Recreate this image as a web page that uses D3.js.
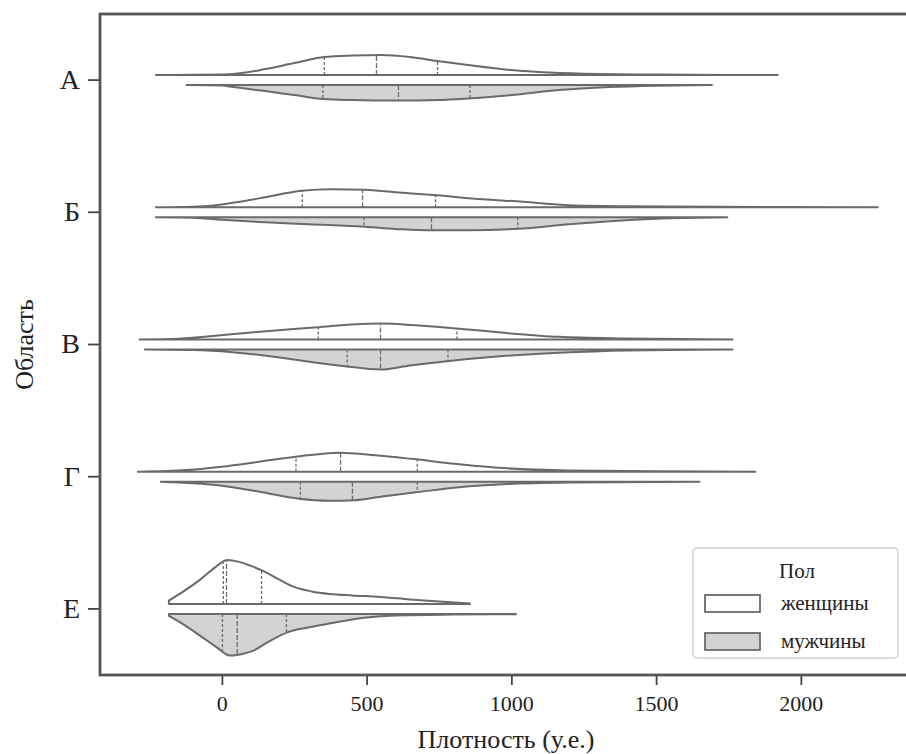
<!DOCTYPE html>
<html>
<head>
<meta charset="utf-8">
<script src="https://cdn.jsdelivr.net/npm/d3@7"></script>
<style>
	body { margin: 0; background: #fff; }
	svg { display: block; }
	text { font-family: "Liberation Serif", "DejaVu Serif", serif; fill: #222; }
</style>
</head>
<body>
<div id="chart"></div>
<script>
/* categories and hue levels */
const regions = ["А", "Б", "В", "Г", "Е"];
const sexes = ["женщины", "мужчины"];
const xTicks = [0, 500, 1000, 1500, 2000];

/* density profiles per region: [value, density x1e-4] */
const womenProfiles = [
	[[-228,0],[0,0.3],[55,0.9],[150,3.6],[250,7.2],[354,10.8],[450,11.7],[550,12],[650,10.8],[745,8.4],[850,6],[1000,3],[1130,1.5],[1300,0.6],[1500,0.3],[1920,0]],
	[[-228,0],[-100,0.3],[-35,0.9],[50,3],[150,6],[275,9.9],[380,10.8],[494,10.5],[600,9],[743,7.2],[900,4.8],[1041,3.3],[1200,1.2],[1400,0.6],[1700,0.3],[2266,0]],
	[[-284,0],[-150,0.4],[-69,1.5],[100,4.2],[318,7.2],[450,9],[548,9.6],[680,8.4],[812,6.6],[1000,3.6],[1164,1.6],[1400,0.6],[1764,0]],
	[[-290,0],[-122,1],[0,3],[130,6],[256,9],[408,11.4],[530,9.9],[670,7.4],[820,4.5],[988,2],[1200,0.7],[1500,0.3],[1843,0]],
	[[-183,2],[-130,7.8],[-76,14.4],[-30,21],[19,26.4],[60,25.2],[100,22.8],[142,19.8],[200,14.4],[249,10.2],[310,7.5],[372,6],[450,5.1],[548,4.2],[650,2.7],[750,1.5],[857,0.3]]
];
const menProfiles = [
	[[-122,0],[0,0.3],[40,1.2],[150,3.6],[250,6],[350,8.4],[450,9],[600,9.3],[750,9],[850,8.1],[1000,6],[1165,3],[1340,1.2],[1500,0.4],[1693,0]],
	[[-228,0],[-100,0.3],[0,1.5],[150,3],[300,4.2],[494,5.7],[620,7.2],[724,7.8],[850,7.8],[1022,6.9],[1200,4.2],[1340,2.4],[1500,0.9],[1746,0]],
	[[-266,0],[-100,0.3],[37,1.6],[200,4.8],[320,7.8],[425,10],[548,12],[650,9.6],[777,7],[950,4.2],[1164,2],[1400,0.6],[1764,0]],
	[[-211,0],[-100,0.9],[0,2.4],[130,6],[266,10.2],[370,11.4],[460,11.1],[560,8.7],[670,6.4],[820,3.3],[988,1.4],[1200,0.5],[1650,0]],
	[[-183,1.2],[-130,6.6],[-76,13],[-20,19.8],[28,25],[70,24],[107,22.2],[160,16.8],[231,10.8],[290,8.4],[335,7],[420,4.2],[500,2.1],[600,0.9],[800,0.4],[1016,0.2]]
];

/* quartiles (Q1, median, Q3) */
const womenQuartiles = [[354,534,745],[278,486,738],[333,548,812],[256,410,675],[5,16,137]];
const menQuartiles = [[349,610,857],[491,724,1022],[433,548,781],[271,451,675],[2,53,223]];

const width = 906, height = 754;
const plot = { left: 100, top: 14, right: 912, bottom: 675 };
const edgeColor = "#6a6a6a";
const fills = ["#ffffff", "#d3d3d3"];

const svg = d3.select("#chart").append("svg")
	.attr("width", width)
	.attr("height", height);

const x = d3.scaleLinear().domain([-421, 2384]).range([plot.left, plot.right]);
const y = d3.scaleBand().domain(regions).range([plot.top, plot.bottom]).padding(0);
const w = d3.scaleLinear().domain([0, 26.4]).range([0, 44]);
const gap = 5;

/* linear lookup of density at a value */
function densityAt(profile, v) {
	for (let i = 1; i < profile.length; i++) {
		const [v0, d0] = profile[i - 1], [v1, d1] = profile[i];
		if (v >= v0 && v <= v1) return d0 + (d1 - d0) * (v - v0) / (v1 - v0);
	}
	return 0;
}

const violins = svg.append("g").attr("class", "violins");

regions.forEach((r, i) => {
	const cy = y(r) + y.bandwidth() / 2;
	[womenProfiles[i], menProfiles[i]].forEach((profile, s) => {
		const dir = s === 0 ? -1 : 1;
		const base = cy + dir * gap;
		const area = d3.area()
			.x(d => x(d[0]))
			.y0(base)
			.y1(d => base + dir * w(d[1]))
			.curve(d3.curveMonotoneX);
		violins.append("path")
			.attr("d", area(profile) + "Z")
			.attr("fill", fills[s])
			.attr("stroke", edgeColor)
			.attr("stroke-width", 2)
			.attr("stroke-linejoin", "round");

		const quarts = s === 0 ? womenQuartiles[i] : menQuartiles[i];
		quarts.forEach((q, k) => {
			violins.append("line")
				.attr("x1", x(q)).attr("x2", x(q))
				.attr("y1", base)
				.attr("y2", base + dir * w(densityAt(profile, q)))
				.attr("stroke", edgeColor)
				.attr("stroke-width", 1.3)
				.attr("stroke-dasharray", k === 1 ? "5,2" : "3,2");
		});
	});
});

/* axes */
const xAxis = svg.append("g")
	.attr("transform", `translate(0,${plot.bottom})`)
	.call(d3.axisBottom(x).tickValues(xTicks).tickFormat(d3.format("d")).tickSize(10).tickPadding(10));
xAxis.select(".domain").remove();
xAxis.selectAll(".tick line").attr("stroke", "#444").attr("stroke-width", 1.8);
xAxis.selectAll(".tick text").style("font-size", "22px").attr("fill", "#222");

const yAxis = svg.append("g")
	.attr("transform", `translate(${plot.left},0)`)
	.call(d3.axisLeft(y).tickSize(12).tickPadding(8));
yAxis.select(".domain").remove();
yAxis.selectAll(".tick line").attr("stroke", "#444").attr("stroke-width", 1.8);
yAxis.selectAll(".tick text").style("font-size", "28px").attr("fill", "#222");

svg.append("rect")
	.attr("x", plot.left).attr("y", plot.top)
	.attr("width", plot.right - plot.left)
	.attr("height", plot.bottom - plot.top)
	.attr("fill", "none")
	.attr("stroke", "#555")
	.attr("stroke-width", 2.8);

svg.append("text")
	.attr("x", (plot.left + plot.right) / 2)
	.attr("y", 748)
	.attr("text-anchor", "middle")
	.style("font-size", "26px")
	.text("Плотность (у.е.)");

svg.append("text")
	.attr("transform", `translate(33,${(plot.top + plot.bottom) / 2}) rotate(-90)`)
	.attr("text-anchor", "middle")
	.style("font-size", "26px")
	.text("Область");

/* legend */
const legend = svg.append("g").attr("transform", "translate(693,548)");
legend.append("rect")
	.attr("width", 205).attr("height", 110).attr("rx", 4)
	.attr("fill", "#fff").attr("fill-opacity", 0.85)
	.attr("stroke", "#d0d0d0").attr("stroke-width", 1.5);
legend.append("text")
	.attr("x", 104).attr("y", 30)
	.attr("text-anchor", "middle")
	.style("font-size", "21px")
	.text("Пол");
sexes.forEach((s, i) => {
	const row = legend.append("g").attr("transform", `translate(12,${47 + i * 38})`);
	row.append("rect")
		.attr("width", 55).attr("height", 17)
		.attr("fill", fills[i])
		.attr("stroke", edgeColor).attr("stroke-width", 1.8);
	row.append("text")
		.attr("x", 76).attr("y", 15)
		.style("font-size", "21px")
		.text(s);
});
</script>
</body>
</html>
